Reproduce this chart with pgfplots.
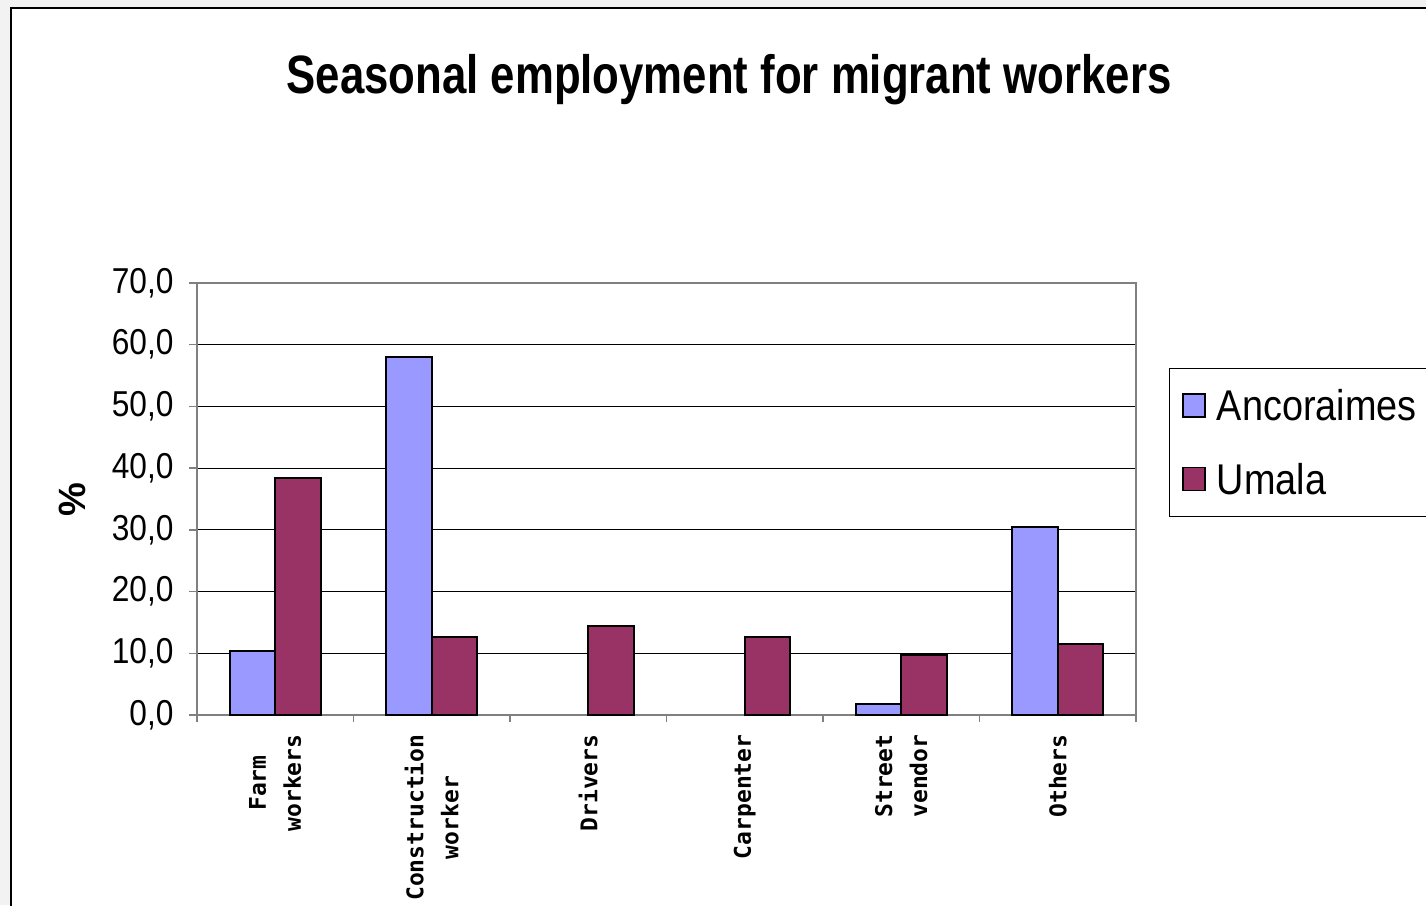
\documentclass[border=0pt]{standalone}
\usepackage{pgfplots}
\pgfplotsset{compat=1.18}
\usepackage{fontspec}
\setmainfont{Liberation Sans}[FakeStretch=0.88]
\newfontfamily\titlefont{Liberation Sans Bold}[FakeStretch=0.81]
\newfontfamily\pctfont{Liberation Sans Bold}
\newfontfamily\labelfont{DejaVu Sans Mono Bold}
\definecolor{anco}{HTML}{9999FF}
\definecolor{umala}{HTML}{993366}
\definecolor{axgray}{HTML}{808080}
\pgfplotsset{sqlegend/.style={legend image code/.code={\draw[##1, line width=1.5pt] (0pt,-11pt) rectangle (22pt,12pt);}}}
\begin{document}
\begin{tikzpicture}[x=1pt,y=1pt]
\useasboundingbox (0,0) rectangle (1426,-905);
\fill[black!5] (0,0) rectangle (1426,-905);
\fill[white] (11,-8) rectangle (1440,-920);
\draw[black, line width=1.5pt] (11,-920) -- (11,-8) -- (1440,-8);
\node[font=\titlefont\fontsize{54}{60}\selectfont, anchor=base] at (729,-93) {Seasonal employment for migrant workers};
\begin{axis}[
  at={(197pt,-715pt)}, anchor=south west,
  scale only axis, width=939pt, height=432pt,
  ybar=0pt, bar width=45.5pt,
  xmin=-0.5, xmax=5.5, ymin=0, ymax=70,
  ytick={0,10,...,70},
  xtick={0,1,2,3,4,5},
  xticklabels={Farm\\workers, Construction\\worker, Drivers, Carpenter, Street\\vendor, Others},
  minor xtick={-0.5,0.5,1.5,2.5,3.5,4.5,5.5},
  xtick pos=bottom, ytick pos=left,
  major x tick style={draw=none},
  tick align=outside,
  major tick length=8pt, minor tick length=7pt,
  tick style={axgray, line width=1.5pt},
  ymajorgrids,
  grid style={black, line width=1pt},
  axis line style={axgray, line width=2pt},
  y tick label style={font=\fontsize{36}{40}\selectfont, xshift=-12pt,
    /pgf/number format/.cd, fixed, fixed zerofill, precision=1, use comma, assume math mode=true},
  x tick label style={font=\labelfont\fontsize{23}{35}\selectfont, rotate=90, anchor=east, align=center, xshift=-8pt},
  ylabel={\%},
  ylabel style={font=\pctfont\fontsize{38}{40}\selectfont, at={(axis description cs:-0.1331,0.4977)}, anchor=center, rotate=0},
  legend style={at={(1.0351,0.8032)}, anchor=north west, draw=black, line width=1pt,
    font=\fontsize{43}{47}\selectfont, inner xsep=13pt, inner ysep=19pt, row sep=37pt, column sep=9pt},
  legend cell align=left,
]
\addplot[fill=anco, draw=black, line width=1.8pt, sqlegend]
  coordinates {(0,10.4) (1,58.0) (4,1.8) (5,30.5)};
\addplot[fill=umala, draw=black, line width=1.8pt, sqlegend]
  coordinates {(0,38.4) (1,12.6) (2,14.4) (3,12.6) (4,9.7) (5,11.5)};
\legend{Ancoraimes, Umala}
\end{axis}
\end{tikzpicture}
\end{document}
